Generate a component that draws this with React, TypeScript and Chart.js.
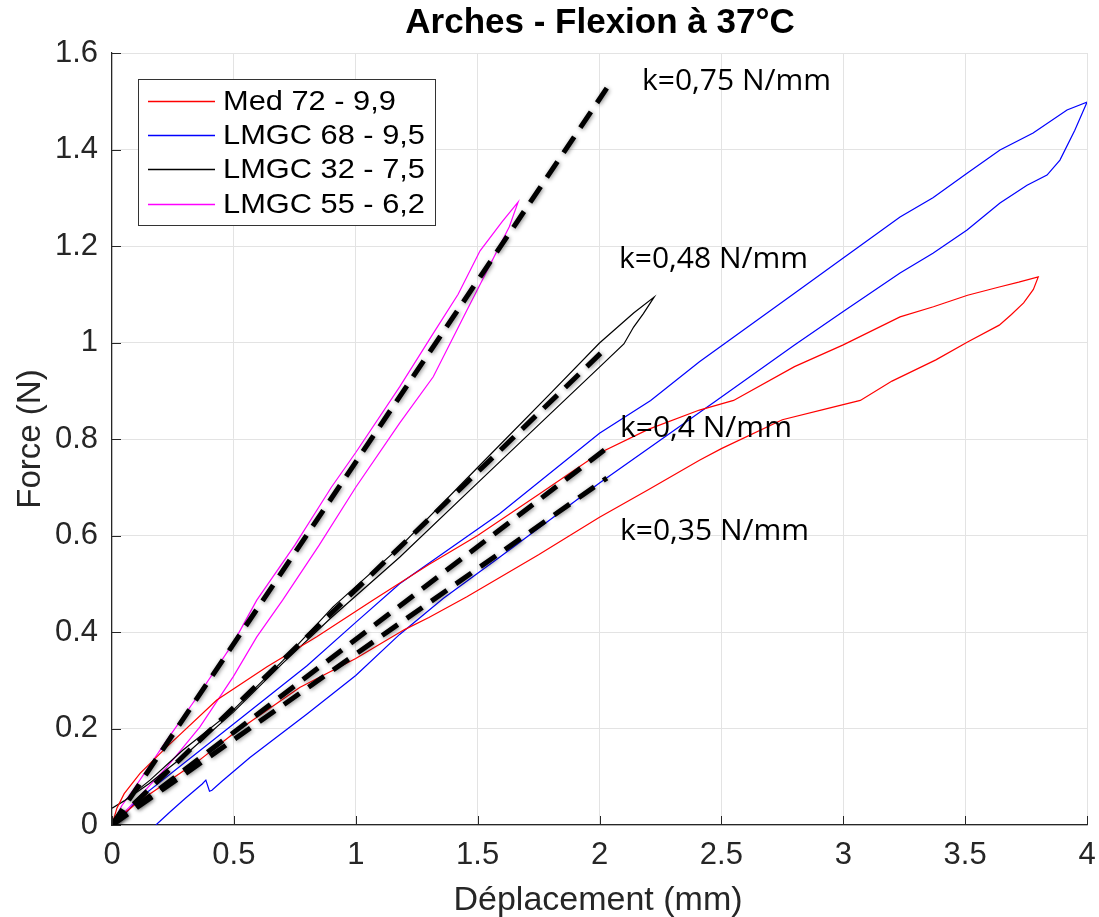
import React, { useEffect, useRef } from 'react';
import { Chart, registerables } from 'chart.js';

Chart.register(...registerables);

// ---- Data ----
const medX = [0, 0.02, 0.05, 0.115, 0.225, 0.43, 0.636, 0.84, 1.07, 1.3, 1.5, 1.75, 2.0, 2.2, 2.41, 2.55, 2.8, 3.0, 3.233, 3.37, 3.51, 3.64, 3.72, 3.8, 3.78, 3.74, 3.69, 3.64, 3.51, 3.38, 3.2, 3.07, 2.95, 2.75, 2.5, 2.41, 2.2, 2.0, 1.75, 1.456, 1.3, 1.2, 1.0, 0.77, 0.5, 0.36, 0.2, 0.1, 0.03];
const medY = [0, 0.035, 0.065, 0.107, 0.162, 0.259, 0.328, 0.39, 0.466, 0.54, 0.6, 0.685, 0.771, 0.82, 0.86, 0.88, 0.95, 0.995, 1.053, 1.074, 1.098, 1.115, 1.125, 1.136, 1.11, 1.082, 1.058, 1.036, 1.001, 0.964, 0.92, 0.88, 0.865, 0.84, 0.78, 0.756, 0.695, 0.638, 0.56, 0.473, 0.43, 0.405, 0.345, 0.285, 0.19, 0.135, 0.08, 0.045, 0.015];

const lmgc68X = [0, 0.05, 0.1, 0.3, 0.5, 0.8, 1.0, 1.18, 1.59, 2.0, 2.21, 2.41, 2.8, 3.0, 3.233, 3.368, 3.508, 3.643, 3.779, 3.918, 4.0, 3.95, 3.889, 3.836, 3.754, 3.643, 3.508, 3.368, 3.233, 3.0, 2.8, 2.48, 2.41, 2.0, 1.59, 1.36, 1.18, 1.0, 0.8, 0.566, 0.45, 0.41, 0.4, 0.385, 0.37, 0.3, 0.24, 0.18];
const lmgc68Y = [0, 0.02, 0.05, 0.13, 0.21, 0.33, 0.42, 0.5, 0.645, 0.812, 0.88, 0.96, 1.102, 1.175, 1.26, 1.3, 1.351, 1.399, 1.434, 1.482, 1.498, 1.44, 1.378, 1.347, 1.326, 1.289, 1.233, 1.185, 1.144, 1.064, 0.995, 0.88, 0.855, 0.709, 0.555, 0.47, 0.395, 0.31, 0.23, 0.14, 0.09, 0.072, 0.07, 0.093, 0.085, 0.055, 0.028, 0];

const lmgc32X = [0, 0.05, 0.156, 0.29, 0.497, 0.7, 0.907, 1.18, 1.5, 1.8, 2.0, 2.14, 2.224, 2.18, 2.14, 2.1, 2.0, 1.8, 1.5, 1.18, 0.9, 0.7, 0.5, 0.3, 0.15, 0.05, 0];
const lmgc32Y = [0.035, 0.05, 0.093, 0.155, 0.238, 0.34, 0.452, 0.576, 0.741, 0.895, 0.999, 1.061, 1.094, 1.06, 1.032, 0.997, 0.949, 0.853, 0.709, 0.555, 0.43, 0.335, 0.235, 0.145, 0.085, 0.05, 0.035];

const lmgc55X = [0, 0.04, 0.086, 0.225, 0.36, 0.497, 0.594, 0.75, 0.9, 1.0, 1.18, 1.318, 1.42, 1.51, 1.6, 1.666, 1.63, 1.58, 1.52, 1.456, 1.318, 1.18, 1.0, 0.85, 0.7, 0.594, 0.497, 0.36, 0.225, 0.086, 0];
const lmgc55Y = [0, 0.04, 0.072, 0.176, 0.273, 0.377, 0.466, 0.58, 0.7, 0.772, 0.908, 1.019, 1.1, 1.19, 1.25, 1.291, 1.24, 1.19, 1.13, 1.067, 0.929, 0.833, 0.7, 0.58, 0.466, 0.39, 0.307, 0.203, 0.12, 0.045, 0];

const k075X = [0, 2.03];
const k075Y = [0, 1.527];
const k048X = [0, 2.03];
const k048Y = [0, 0.99];
const k040X = [0, 2.02];
const k040Y = [0, 0.777];
const k035X = [0, 2.03];
const k035Y = [0, 0.719];

const seriesNames = ['Med 72 - 9,9', 'LMGC 68 - 9,5', 'LMGC 32 - 7,5', 'LMGC 55 - 6,2'];
const seriesColors = ['#ff0000', '#0000ff', '#000000', '#ff00ff'];
const slopeLabels = ['k=0,75 N/mm', 'k=0,48 N/mm', 'k=0,4 N/mm', 'k=0,35 N/mm'];
const slopeLabelPos = [[642, 90], [619, 268], [620, 437], [620, 540]];

const xTicksMax = 4;
const yTicksMax = 1.6;

const titleText = 'Arches - Flexion à 37°C';
const xTitle = 'Déplacement (mm)';
const yTitle = 'Force (N)';

const SANS = "'Liberation Sans', Arial, Helvetica, sans-serif";

function pts(xs: number[], ys: number[]) {
  return xs.map((x, i) => ({ x, y: ys[i] }));
}

const textPlugin = {
  id: 'textPlugin',
  beforeDatasetDraw(chart: any, args: any) {
    const ds = chart.data.datasets[args.index];
    if (ds && ds.isSlope) {
      const ctx = chart.ctx;
      ctx.save();
      ctx.shadowColor = 'rgba(0,0,0,0.45)';
      ctx.shadowBlur = 4;
      ctx.shadowOffsetX = 1;
      ctx.shadowOffsetY = 1;
    }
  },
  afterDatasetDraw(chart: any, args: any) {
    const ds = chart.data.datasets[args.index];
    if (ds && ds.isSlope) {
      chart.ctx.restore();
    }
  },
  afterDraw(chart: any) {
    const ctx = chart.ctx;
    const area = chart.chartArea;
    const xs = chart.scales.x;
    const ys = chart.scales.y;
    ctx.save();
    // inward ticks
    ctx.strokeStyle = '#262626';
    ctx.lineWidth = 1;
    ctx.beginPath();
    xs.ticks.forEach((t: any) => {
      const px = Math.round(xs.getPixelForValue(t.value)) + 0.5;
      ctx.moveTo(px, area.bottom);
      ctx.lineTo(px, area.bottom - 9);
    });
    ys.ticks.forEach((t: any) => {
      const py = Math.round(ys.getPixelForValue(t.value)) + 0.5;
      ctx.moveTo(area.left, py);
      ctx.lineTo(area.left + 9, py);
    });
    ctx.stroke();

    // title
    ctx.fillStyle = '#000';
    ctx.font = `bold 35px ${SANS}`;
    ctx.textAlign = 'center';
    ctx.textBaseline = 'alphabetic';
    ctx.fillText(titleText, 600, 33);

    // axis titles
    ctx.fillStyle = '#262626';
    ctx.font = `34px ${SANS}`;
    ctx.fillText(xTitle, 598, 910);
    ctx.font = `33px ${SANS}`;
    ctx.save();
    ctx.translate(40, 439);
    ctx.rotate(-Math.PI / 2);
    ctx.textAlign = 'center';
    ctx.fillText(yTitle, 0, 0);
    ctx.restore();

    // slope annotations
    ctx.fillStyle = '#000';
    ctx.font = `30px 'Open Sans', sans-serif`;
    ctx.textAlign = 'left';
    slopeLabels.forEach((s, i) => {
      ctx.fillText(s, slopeLabelPos[i][0], slopeLabelPos[i][1]);
    });

    // legend
    const stretch = 1.1;
    ctx.font = `28px ${SANS}`;
    let maxW = 0;
    seriesNames.forEach((n) => {
      maxW = Math.max(maxW, ctx.measureText(n).width * stretch);
    });
    const lx = 138.5;
    const ly = 79.5;
    const textX = 223;
    const lw = Math.round(textX + maxW + 11 - lx);
    const lh = 146;
    ctx.fillStyle = '#fff';
    ctx.fillRect(lx, ly, lw, lh);
    ctx.strokeStyle = '#333';
    ctx.lineWidth = 1;
    ctx.strokeRect(lx, ly, lw, lh);
    const rows = [101.5, 135.5, 169.5, 204.5];
    ctx.textBaseline = 'middle';
    seriesNames.forEach((n, i) => {
      ctx.strokeStyle = seriesColors[i];
      ctx.lineWidth = 1.3;
      ctx.beginPath();
      ctx.moveTo(148, rows[i]);
      ctx.lineTo(215, rows[i]);
      ctx.stroke();
      ctx.fillStyle = '#000';
      ctx.save();
      ctx.translate(textX, rows[i] + 1);
      ctx.scale(stretch, 1);
      ctx.fillText(n, 0, 0);
      ctx.restore();
    });
    ctx.restore();
  },
};

export default function App() {
  const ref = useRef<HTMLCanvasElement | null>(null);
  useEffect(() => {
    if (!ref.current) return;
    const curve = (label: string, xs: number[], ys: number[], color: string) => ({
      label,
      data: pts(xs, ys),
      borderColor: color,
      backgroundColor: color,
      borderWidth: 1.2,
      pointRadius: 0,
      fill: false,
      tension: 0,
      order: 1,
    });
    const slope = (xs: number[], ys: number[]) => ({
      label: 'slope',
      isSlope: true,
      data: pts(xs, ys),
      borderColor: '#000',
      borderWidth: 5,
      borderDash: [19, 11],
      pointRadius: 0,
      fill: false,
      tension: 0,
      order: 0,
    });
    const chart = new Chart(ref.current, {
      type: 'line',
      data: {
        datasets: [
          curve(seriesNames[0], medX, medY, seriesColors[0]),
          curve(seriesNames[1], lmgc68X, lmgc68Y, seriesColors[1]),
          curve(seriesNames[2], lmgc32X, lmgc32Y, seriesColors[2]),
          curve(seriesNames[3], lmgc55X, lmgc55Y, seriesColors[3]),
          slope(k075X, k075Y),
          slope(k048X, k048Y),
          slope(k040X, k040Y),
          slope(k035X, k035Y),
        ] as any,
      },
      options: {
        animation: false,
        responsive: true,
        maintainAspectRatio: false,
        layout: { padding: { top: 53, right: 12, left: 0, bottom: 0 } },
        plugins: {
          legend: { display: false },
          title: { display: false },
          tooltip: { enabled: false },
        },
        scales: {
          x: {
            type: 'linear',
            min: 0,
            max: xTicksMax,
            ticks: {
              stepSize: 0.5,
              padding: 12,
              color: '#262626',
              font: { size: 31, family: SANS },
              maxRotation: 0,
              callback: (v: any) => String(Number(Number(v).toFixed(1))),
            },
            grid: { color: '#e3e3e3', drawTicks: false, lineWidth: 1 },
            border: { display: true, color: '#262626', width: 1.2 },
            afterFit: (s: any) => { s.height = 92; s.paddingLeft = 0; s.paddingRight = 0; },
          },
          y: {
            type: 'linear',
            min: 0,
            max: yTicksMax,
            ticks: {
              stepSize: 0.2,
              padding: 14,
              color: '#262626',
              font: { size: 31, family: SANS },
              callback: (v: any) => String(Number(Number(v).toFixed(1))),
            },
            grid: { color: '#e3e3e3', drawTicks: false, lineWidth: 1 },
            border: { display: true, color: '#262626', width: 1.2 },
            afterFit: (s: any) => { s.width = 112; s.paddingTop = 0; s.paddingBottom = 0; },
          },
        },
      } as any,
      plugins: [textPlugin],
    });
    return () => chart.destroy();
  }, []);
  return (
    <div style={{ position: 'fixed', left: 0, top: 0, width: 1099, height: 917, background: '#fff' }}>
      <canvas ref={ref} />
    </div>
  );
}
